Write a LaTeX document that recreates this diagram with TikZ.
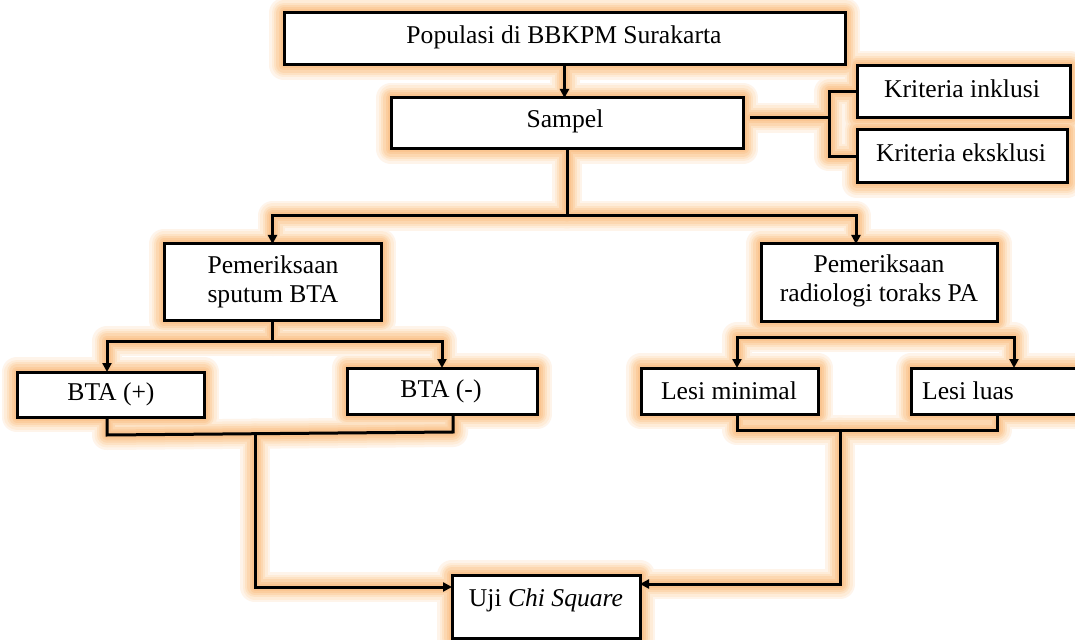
\documentclass[tikz,border=0pt]{standalone}
\usepackage{fontspec}
\setmainfont{Liberation Serif}
\usetikzlibrary{arrows.meta,fit,backgrounds,calc}
\definecolor{glowa}{RGB}{254,244,234}
\definecolor{glowb}{RGB}{254,236,216}
\definecolor{glowc}{RGB}{253,226,196}
\definecolor{glowd}{RGB}{252,215,176}
\definecolor{glowe}{RGB}{251,205,158}
\definecolor{glowf}{RGB}{250,197,145}
\newcommand\glowboxes[1]{%
  \foreach \n in {pop,samp,inkl,eksk,sput,radi,btap,btam,lmin,lluas,uji}{%
    \draw[#1] (\n.north west) rectangle (\n.south east);}}
\newcommand\wiring[3]{%
  \draw[#1,#2] (pop.south) -- (pop.south |- samp.north);
  \draw[#1] (samp.south) -- (samp.south |- jL);
  \draw[#1,#3] (sput.north) -- (sput.north |- jL) -- (jR) -- (radi.north -| jR);
  \draw[#1] ($(samp.east |- br)+(7,0)$) -- (br);
  \draw[#1] (inkl.west) -| (br) |- (eksk.west);
  \draw[#1] (sput.south) -- (sput.south |- sbl);
  \draw[#1,#3] (btap.north -| sbl) -- (sbl) -- (sbr) -- (btam.north -| sbr);
  \draw[#1] (btap.south -| m1) -- (m1) -- (m2) -- (btam.south -| m2);
  \draw[#1,#2] (md) -- (lo) -- (uji.west |- lo);
  \draw[#1,#3] (lmin.north -| rl) -- (rl) -- (rr) -- (lluas.north -| rr);
  \draw[#1] (lmin.south -| n1) -- (n1) -- (n2) -- (lluas.south -| n2);
  \draw[#1,#2] (nd) -- (ro) -- (uji.east |- ro);
}
\newcommand\glowlayer[1]{\glowboxes{#1}\wiring{#1}{notip}{notip}}
\begin{document}
\begin{tikzpicture}[x=1bp,y=-1bp,
  box/.style={draw=black, line width=3bp, fill=white, inner sep=0pt, outer sep=0pt},
  txt/.style={font=\fontsize{25.6bp}{29bp}\selectfont, inner sep=0pt, align=center},
  wire/.style={draw=black, line width=3bp},
  tip/.style={-{Triangle[length=9bp,width=9bp]}},
  tips/.style={{Triangle[length=9bp,width=9bp]}-{Triangle[length=9bp,width=9bp]}},
  notip/.style={},
  glowbase/.style={line join=round, line cap=round},
  gA/.style={glowbase, draw=glowa, line width=30bp},
  gB/.style={glowbase, draw=glowb, line width=25bp},
  gC/.style={glowbase, draw=glowc, line width=20bp},
  gD/.style={glowbase, draw=glowd, line width=15.5bp},
  gE/.style={glowbase, draw=glowe, line width=11bp},
  gF/.style={glowbase, draw=glowf, line width=7bp}]
\useasboundingbox (0,0) rectangle (1075,640);
% boxes
\node[box, fit={(284,13) (845,65)}] (pop) {};
\node[box, fit={(391,98) (743,149)}] (samp) {};
\node[box, fit={(857,66) (1070,118)}] (inkl) {};
\node[box, fit={(857,130) (1067,183)}] (eksk) {};
\node[box, fit={(164,244) (381,320)}] (sput) {};
\node[box, fit={(761,244) (997,321)}] (radi) {};
\node[box, fit={(17,372) (204,417)}] (btap) {};
\node[box, fit={(347,368) (537,414)}] (btam) {};
\node[box, fit={(641,368) (818,414)}] (lmin) {};
\node[box, fit={(911,368) (1100,414)}] (lluas) {};
\node[box, fit={(452,575) (640,638)}] (uji) {};
% texts
\node[txt] (tpop) at (564,37) {Populasi di BBKPM Surakarta};
\node[txt] (tsamp) at (565,121) {Sampel};
\node[txt] (tinkl) at (962,89) {Kriteria inklusi};
\node[txt] (teksk) at (961,153) {Kriteria eksklusi};
\node[txt] (tsput) at (273,282) {Pemeriksaan\\sputum BTA};
\node[txt] (tradi) at (879,281) {Pemeriksaan\\radiologi toraks PA};
\node[txt] (tbtap) at (111,394) {BTA (+)};
\node[txt] (tbtam) at (441,391) {BTA (-)};
\node[txt] (tlmin) at (729,391) {Lesi minimal};
\node[txt, anchor=west] (tlluas) at (922,391) {Lesi luas};
\node[txt] (tuji) at (546,600) {Uji \textit{Chi Square}};
% junction points
\coordinate (jL) at (273,216);
\coordinate (jR) at (856,216);
\coordinate (br) at (829,118);
\coordinate (sbl) at (107,341);
\coordinate (sbr) at (442,341);
\coordinate (m1) at (107,435);
\coordinate (m2) at (453,432);
\coordinate (md) at (255,433.5);
\coordinate (lo) at (255,587);
\coordinate (rl) at (737,337);
\coordinate (rr) at (1014,337);
\coordinate (n1) at (737,430);
\coordinate (n2) at (997,430);
\coordinate (nd) at (840,430);
\coordinate (ro) at (840,584);
% connectors
\wiring{wire}{tip}{tips}
% glow
\begin{scope}[on background layer]
  \fill[white] (0,0) rectangle (1075,640);
  \glowlayer{gA}
  \glowlayer{gB}
  \glowlayer{gC}
  \glowlayer{gD}
  \glowlayer{gE}
  \glowlayer{gF}
\end{scope}
\end{tikzpicture}
\end{document}
